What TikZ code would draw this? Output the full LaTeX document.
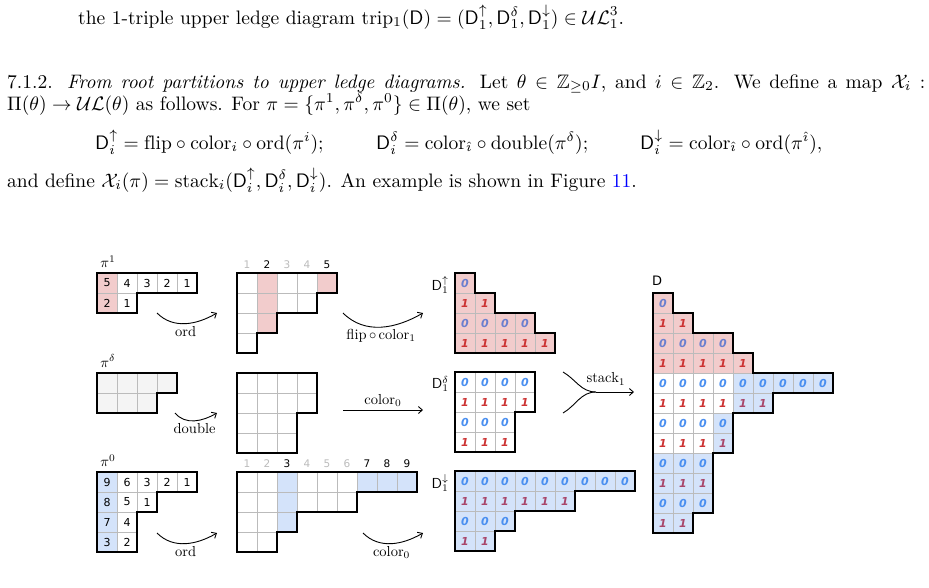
\documentclass[tikz,border=0pt]{standalone}
\usepackage{amssymb}
\usepackage{graphicx}
\usepackage{fontspec}
\newfontfamily\djv{DejaVu Sans}
\usetikzlibrary{arrows.meta}
\definecolor{pk}{HTML}{F2CCCC}
\definecolor{bl}{HTML}{D4E3FA}
\definecolor{gy}{HTML}{F4F4F4}
\definecolor{gl}{HTML}{BBBBBB}
\definecolor{zp}{HTML}{6A7FCF}
\definecolor{op}{HTML}{CC3333}
\definecolor{zw}{HTML}{4A8FF0}
\definecolor{ow}{HTML}{CC3333}
\definecolor{zb}{HTML}{4A8FF0}
\definecolor{ob}{HTML}{A8456A}
\newcommand\dig[3]{\pgfmathtruncatemacro\dd{mod(#2,2)}%
  \ifnum\dd=0 \node[dg,text=z#3] at (#1+.5,#2+.5){0};\else\node[dg,text=o#3] at (#1+.5,#2+.5){1};\fi}
\newcommand\bt[1]{\scalebox{1.95}{\fontsize{10}{12}\selectfont #1}}
\newcommand\lt[1]{\scalebox{1.45}{\fontsize{10}{12}\selectfont #1}}
\tikzset{
  cellg/.style={draw=gl,line width=0.7pt},
  outl/.style={draw=black,line width=1.4pt,line join=miter},
  dg/.style={font=\djv\bfseries\itshape\fontsize{11}{11}\selectfont,inner sep=0pt},
  nm/.style={font=\djv\fontsize{11}{11}\selectfont,inner sep=0pt},
  hd/.style={font=\djv\fontsize{10.5}{10.5}\selectfont,inner sep=0pt,text=gl},
  hdk/.style={font=\djv\fontsize{10.5}{10.5}\selectfont,inner sep=0pt},
  arr/.style={-{Straight Barb[length=4pt,width=7pt]},line width=0.9pt},
  lab/.style={inner sep=1pt},
  body/.style={inner sep=0pt,anchor=base west},
}
\begin{document}
\begin{tikzpicture}[x=1pt,y=-1pt]
\useasboundingbox (0,0) rectangle (929,587);
% text
\node[body] (t0) at (78,24) {\bt{the 1-triple upper ledge diagram trip$_1(\mathsf D)=(\mathsf D_1^\uparrow,\mathsf D_1^\delta,\mathsf D_1^\downarrow)\in\mathcal{UL}_1^3$.}};
\node[body] (t1) at (7,88) {\bt{\hbox to 470.8pt{7.1.2. \textit{From root partitions to upper ledge diagrams.} Let $\theta\in\mathbb Z_{\geq0}I$, and $i\in\mathbb Z_2$. We define a map $\mathcal X_i$ :}}};
\node[body] (t2) at (7,110) {\bt{$\Pi(\theta)\to\mathcal{UL}(\theta)$ as follows. For $\pi=\{\pi^1,\pi^\delta,\pi^0\}\in\Pi(\theta)$, we set}};
\node[body] (t3) at (95,149) {\bt{$\mathsf D_i^\uparrow=\mathrm{flip}\circ\mathrm{color}_i\circ\mathrm{ord}(\pi^i);$}};
\node[body] (t4) at (376,149) {\bt{$\mathsf D_i^\delta=\mathrm{color}_{\hat\imath}\circ\mathrm{double}(\pi^\delta);$}};
\node[body] (t5) at (640,149) {\bt{$\mathsf D_i^\downarrow=\mathrm{color}_{\hat\imath}\circ\mathrm{ord}(\pi^{\hat\imath}),$}};
\node[body] (t6) at (7,187) {\bt{and define $\mathcal X_i(\pi)=\mathrm{stack}_i(\mathsf D_i^\uparrow,\mathsf D_i^\delta,\mathsf D_i^\downarrow)$. An example is shown in Figure \textcolor{blue}{11}.}};
% pi^1
\node[lab] (l1) at (108,262) {\lt{$\pi^1$}};
\begin{scope}[shift={(97,273)},x=20pt,y=-20pt]
\fill[pk] (0,0) rectangle (1,2);
\foreach \r/\l in {0/5,1/2}{\foreach \c in {1,...,\l}{\draw[cellg] (\c-1,\r) rectangle +(1,1);}}
\foreach \c/\r/\v in {0/0/5,1/0/4,2/0/3,3/0/2,4/0/1,0/1/2,1/1/1}{\node[nm] at (\c+.5,\r+.5){\v};}
\draw[outl] (0,0)--(5,0)--(5,1)--(2,1)--(2,2)--(0,2)--cycle;
\end{scope}
% ord1
\begin{scope}[shift={(237,273)},x=20pt,y=-20pt]
\fill[pk] (1,0) rectangle (2,3) (4,0) rectangle (5,1);
\foreach \r/\l in {0/5,1/4,2/2,3/1}{\foreach \c in {1,...,\l}{\draw[cellg] (\c-1,\r) rectangle +(1,1);}}
\foreach \c in {1,3,4}{\node[hd] at (\c-.5,-.4){\c};}
\foreach \c in {2,5}{\node[hdk] at (\c-.5,-.4){\c};}
\draw[outl] (0,0)--(5,0)--(5,1)--(4,1)--(4,2)--(2,2)--(2,3)--(1,3)--(1,4)--(0,4)--cycle;
\end{scope}
% pi^delta
\node[lab] (l2) at (108,361) {\lt{$\pi^\delta$}};
\begin{scope}[shift={(97,373)},x=20pt,y=-20pt]
\fill[gy] (0,0)--(4,0)--(4,1)--(3,1)--(3,2)--(0,2)--cycle;
\foreach \r/\l in {0/4,1/3}{\foreach \c in {1,...,\l}{\draw[cellg] (\c-1,\r) rectangle +(1,1);}}
\draw[outl] (0,0)--(4,0)--(4,1)--(3,1)--(3,2)--(0,2)--cycle;
\end{scope}
% double
\begin{scope}[shift={(237,373)},x=20pt,y=-20pt]
\foreach \r/\l in {0/4,1/4,2/3,3/3}{\foreach \c in {1,...,\l}{\draw[cellg] (\c-1,\r) rectangle +(1,1);}}
\draw[outl] (0,0)--(4,0)--(4,2)--(3,2)--(3,4)--(0,4)--cycle;
\end{scope}
% pi^0
\node[lab] (l3) at (108,461) {\lt{$\pi^0$}};
\begin{scope}[shift={(97,472)},x=20pt,y=-20pt]
\fill[bl] (0,0) rectangle (1,4);
\foreach \r/\l in {0/5,1/3,2/2,3/2}{\foreach \c in {1,...,\l}{\draw[cellg] (\c-1,\r) rectangle +(1,1);}}
\foreach \c/\r/\v in {0/0/9,1/0/6,2/0/3,3/0/2,4/0/1,0/1/8,1/1/5,2/1/1,0/2/7,1/2/4,0/3/3,1/3/2}{\node[nm] at (\c+.5,\r+.5){\v};}
\draw[outl] (0,0)--(5,0)--(5,1)--(3,1)--(3,2)--(2,2)--(2,4)--(0,4)--cycle;
\end{scope}
% ord0
\begin{scope}[shift={(237,472)},x=20pt,y=-20pt]
\fill[bl] (2,0) rectangle (3,3) (6,0) rectangle (9,1);
\foreach \r/\l in {0/9,1/6,2/3,3/2}{\foreach \c in {1,...,\l}{\draw[cellg] (\c-1,\r) rectangle +(1,1);}}
\foreach \c in {1,2,4,5,6}{\node[hd] at (\c-.5,-.4){\c};}
\foreach \c in {3,7,8,9}{\node[hdk] at (\c-.5,-.4){\c};}
\draw[outl] (0,0)--(9,0)--(9,1)--(6,1)--(6,2)--(3,2)--(3,3)--(2,3)--(2,4)--(0,4)--cycle;
\end{scope}
% D up
\node[lab,anchor=east] (d1) at (450,285) {\lt{$\mathsf D_1^\uparrow$}};
\begin{scope}[shift={(455,273)},x=20pt,y=-20pt]
\fill[pk] (0,0)--(1,0)--(1,1)--(2,1)--(2,2)--(4,2)--(4,3)--(5,3)--(5,4)--(0,4)--cycle;
\foreach \r/\l in {0/1,1/2,2/4,3/5}{\foreach \c in {1,...,\l}{\draw[cellg] (\c-1,\r) rectangle +(1,1);\dig{\c-1}{\r}{p}}}
\draw[outl] (0,0)--(1,0)--(1,1)--(2,1)--(2,2)--(4,2)--(4,3)--(5,3)--(5,4)--(0,4)--cycle;
\end{scope}
% D delta
\node[lab,anchor=east] (d2) at (450,384) {\lt{$\mathsf D_1^\delta$}};
\begin{scope}[shift={(455,372)},x=20pt,y=-20pt]
\foreach \r/\l in {0/4,1/4,2/3,3/3}{\foreach \c in {1,...,\l}{\draw[cellg] (\c-1,\r) rectangle +(1,1);\dig{\c-1}{\r}{w}}}
\draw[outl] (0,0)--(4,0)--(4,2)--(3,2)--(3,4)--(0,4)--cycle;
\end{scope}
% D down
\node[lab,anchor=east] (d3) at (450,483) {\lt{$\mathsf D_1^\downarrow$}};
\begin{scope}[shift={(455,471)},x=20pt,y=-20pt]
\fill[bl] (0,0)--(9,0)--(9,1)--(6,1)--(6,2)--(3,2)--(3,3)--(2,3)--(2,4)--(0,4)--cycle;
\foreach \r/\l in {0/9,1/6,2/3,3/2}{\foreach \c in {1,...,\l}{\draw[cellg] (\c-1,\r) rectangle +(1,1);\dig{\c-1}{\r}{b}}}
\draw[outl] (0,0)--(9,0)--(9,1)--(6,1)--(6,2)--(3,2)--(3,3)--(2,3)--(2,4)--(0,4)--cycle;
\end{scope}
% D
\node[font=\djv\fontsize{13}{13}\selectfont,anchor=west,inner sep=0pt] (dd) at (652,281) {D};
\begin{scope}[shift={(653,293)},x=20pt,y=-20pt]
\fill[pk] (0,0)--(1,0)--(1,1)--(2,1)--(2,2)--(4,2)--(4,3)--(5,3)--(5,4)--(0,4)--cycle;
\fill[bl] (4,4) rectangle (9,5) (4,5) rectangle (6,6) (3,6) rectangle (4,8) (0,8)--(3,8)--(3,11)--(2,11)--(2,12)--(0,12)--cycle;
\foreach \r/\l in {0/1,1/2,2/4,3/5}{\foreach \c in {1,...,\l}{\draw[cellg] (\c-1,\r) rectangle +(1,1);\dig{\c-1}{\r}{p}}}
\foreach \r/\l/\w in {4/9/4,5/6/4,6/4/3,7/4/3,8/3/0,9/3/0,10/3/0,11/2/0}{\foreach \c in {1,...,\l}{\draw[cellg] (\c-1,\r) rectangle +(1,1);
  \ifnum\c>\w \dig{\c-1}{\r}{b}\else\dig{\c-1}{\r}{w}\fi}}
\draw[outl] (0,0)--(1,0)--(1,1)--(2,1)--(2,2)--(4,2)--(4,3)--(5,3)--(5,4)--(9,4)--(9,5)--(6,5)--(6,6)--(4,6)--(4,8)--(3,8)--(3,11)--(2,11)--(2,12)--(0,12)--cycle;
\end{scope}
% arrows
\coordinate (a1) at (157,313); \coordinate (b1) at (217,313);
\draw[arr] (a1) to[out=-45,in=-150] node[lab,below=1pt] {\lt{ord}} (b1);
\coordinate (a2) at (343,313); \coordinate (b2) at (423,313);
\draw[arr] (a2) to[out=-45,in=-150] node[lab,below=1pt] {\lt{flip$\,\circ\,$color$_1$}} (b2);
\coordinate (a3) at (175,413); \coordinate (b3) at (217,413);
\draw[arr] (a3) to[out=-50,in=-150] node[lab,below=1pt] {\lt{double}} (b3);
\coordinate (a4) at (343,410); \coordinate (b4) at (423,410);
\draw[arr] (a4) -- node[lab,above=2pt] {\lt{color$_0$}} (b4);
\coordinate (a5) at (157,533); \coordinate (b5) at (217,533);
\draw[arr] (a5) to[out=-45,in=-150] node[lab,below=1pt] {\lt{ord}} (b5);
\coordinate (a6) at (363,533); \coordinate (b6) at (423,533);
\draw[arr] (a6) to[out=-45,in=-150] node[lab,below=1pt] {\lt{color$_0$}} (b6);
\coordinate (s1) at (563,372); \coordinate (s2) at (563,413); \coordinate (sm) at (596,392); \coordinate (se) at (634,392);
\draw[line width=0.9pt] (s1) to[out=-30,in=180] (sm);
\draw[line width=0.9pt] (s2) to[out=30,in=180] (sm);
\draw[arr] (sm) -- (se);
\node[lab] (st) at (606,379) {\lt{stack$_1$}};
\end{tikzpicture}
\end{document}
